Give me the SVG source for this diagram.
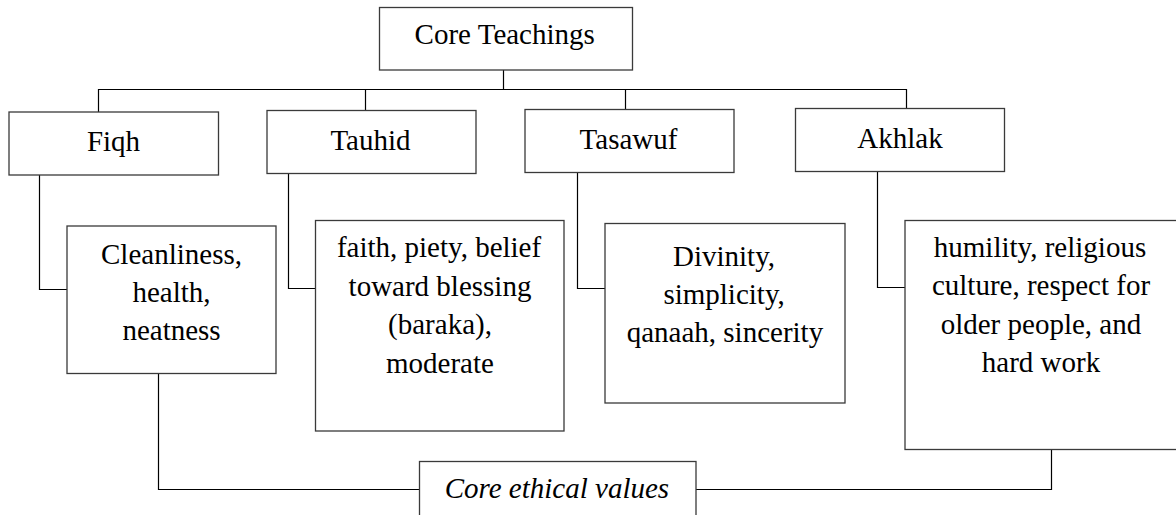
<svg xmlns="http://www.w3.org/2000/svg" width="1176" height="515" viewBox="0 0 1176 515">
<rect width="1176" height="515" fill="#fff"/>
<g id="connectors" fill="none" stroke="#000" stroke-width="1.2">
<polyline points="503.5,70 503.5,89.5"/>
<polyline points="98.5,112 98.5,89.5 906.5,89.5 906.5,108"/>
<polyline points="365.5,89.5 365.5,110"/>
<polyline points="625.5,89.5 625.5,109"/>
<polyline points="39.5,175 39.5,289.5 67,289.5"/>
<polyline points="288.5,173 288.5,288.5 315,288.5"/>
<polyline points="577.5,172 577.5,288.5 605,288.5"/>
<polyline points="877.5,171 877.5,287.5 905,287.5"/>
<polyline points="158.5,373 158.5,489.5 419,489.5"/>
<polyline points="1051.5,449 1051.5,489.5 696,489.5"/>
</g>
<g fill="#fff" stroke="#3a3a3a" stroke-width="1.3">
<rect id="box-core-teachings" x="379.5" y="7.5" width="253" height="62.5"/>
<rect id="box-fiqh" x="9" y="112" width="209.5" height="63"/>
<rect id="box-tauhid" x="267" y="110.5" width="209" height="63"/>
<rect id="box-tasawuf" x="525" y="109.5" width="209" height="63"/>
<rect id="box-akhlak" x="795.5" y="108.5" width="209" height="63"/>
<rect id="box-fiqh-values" x="67" y="226" width="209" height="147.5"/>
<rect id="box-tauhid-values" x="315.5" y="220.5" width="248.5" height="210.5"/>
<rect id="box-tasawuf-values" x="605" y="223.5" width="240" height="179.5"/>
<rect id="box-akhlak-values" x="905" y="220.5" width="275" height="229"/>
<rect id="box-core-ethical-values" x="419.5" y="461.5" width="276.5" height="70"/>
</g>
<g id="core-teachings"><text x="414.6" y="44" font-family="Liberation Serif" font-size="29">Core Teachings</text></g>
<g id="fiqh"><text x="86.9" y="151" font-family="Liberation Serif" font-size="29">Fiqh</text></g>
<g id="tauhid"><text x="330.4" y="149.5" font-family="Liberation Serif" font-size="29">Tauhid</text></g>
<g id="tasawuf"><text x="579.6" y="148.5" font-family="Liberation Serif" font-size="29">Tasawuf</text></g>
<g id="akhlak"><text x="857.3" y="147.5" font-family="Liberation Serif" font-size="29">Akhlak</text></g>
<g id="fiqh-values">
<text x="101" y="264" font-family="Liberation Serif" font-size="29">Cleanliness,</text>
<text x="132.4" y="302" font-family="Liberation Serif" font-size="29">health,</text>
<text x="122.4" y="340" font-family="Liberation Serif" font-size="29">neatness</text>
</g>
<g id="tauhid-values">
<text x="336.9" y="257" font-family="Liberation Serif" font-size="29">faith, piety, belief</text>
<text x="348.6" y="295.5" font-family="Liberation Serif" font-size="29">toward blessing</text>
<text x="388.1" y="334" font-family="Liberation Serif" font-size="29">(baraka),</text>
<text x="386" y="372.5" font-family="Liberation Serif" font-size="29">moderate</text>
</g>
<g id="tasawuf-values">
<text x="673" y="266" font-family="Liberation Serif" font-size="29">Divinity,</text>
<text x="663.4" y="304" font-family="Liberation Serif" font-size="29">simplicity,</text>
<text x="626.7" y="342" font-family="Liberation Serif" font-size="29">qanaah, sincerity</text>
</g>
<g id="akhlak-values">
<text x="933.8" y="256.5" font-family="Liberation Serif" font-size="29">humility, religious</text>
<text x="931.9" y="295" font-family="Liberation Serif" font-size="29">culture, respect for</text>
<text x="940.7" y="333.5" font-family="Liberation Serif" font-size="29">older people, and</text>
<text x="981.8" y="372" font-family="Liberation Serif" font-size="29">hard work</text>
</g>
<g id="core-ethical-values"><text x="444.7" y="498" font-family="Liberation Serif" font-size="29" font-style="italic">Core ethical values</text></g>
</svg>
